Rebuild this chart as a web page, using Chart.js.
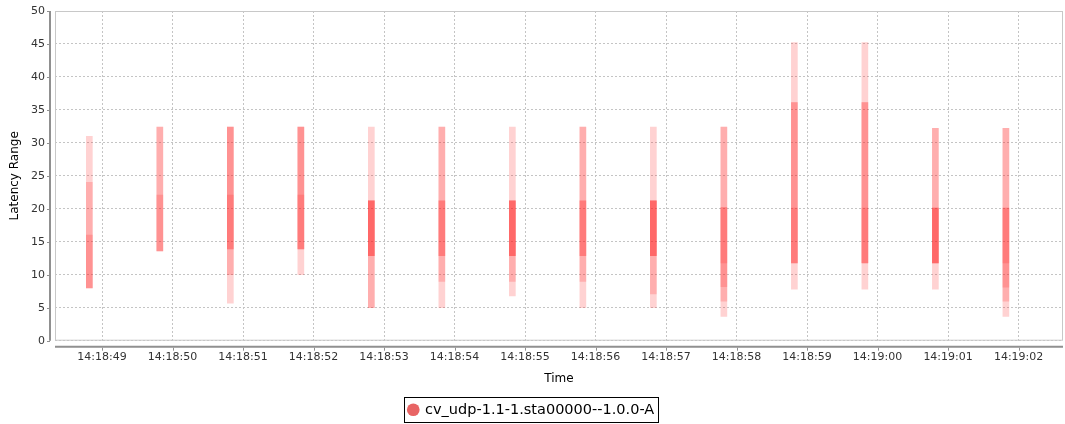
<!DOCTYPE html>
<html>
<head>
<meta charset="utf-8">
<script src="https://cdn.jsdelivr.net/npm/chart.js@4.4.1/dist/chart.umd.min.js"></script>
<style>
  html, body { margin: 0; padding: 0; background: #fff; }
</style>
</head>
<body>
<canvas id="grafico" width="1065" height="424"></canvas>
<script>
// bar positions, in seconds after 14:18:00
const times = [48.82, 49.82, 50.82, 51.82, 52.82, 53.82, 54.82, 55.82, 56.82, 57.82, 58.82, 59.82, 60.82, 61.82];

// overlapping latency ranges [low, high] per time, one array per layer
const layer1 = [[8, 31], [13.6, 32.4], [5.7, 32.4], [10, 32.4], [5, 32.4], [5, 32.4], [6.8, 32.4], [5, 32.4], [5, 32.4], [3.7, 32.4], [7.8, 45.2], [7.8, 45.2], [7.8, 32.2], [3.7, 32.2]];
const layer2 = [[8, 24], [13.6, 32.4], [10, 32.4], [13.9, 32.4], [5, 21.2], [12.9, 32.4], [9, 21.2], [12.9, 32.4], [7.1, 21.2], [6, 32.4], [11.8, 36.1], [11.8, 36.1], [11.8, 32.2], [6, 32.2]];
const layer3 = [[8, 16], [13.6, 22.1], [13.9, 32.4], [13.9, 32.4], [12.9, 21.2], [9, 21.2], [12.9, 21.2], [9, 21.2], [12.9, 21.2], [11.8, 20.2], [11.8, 36.1], [11.8, 36.1], [11.8, 20.1], [11.8, 20.1]];
const layer4 = [null, null, [13.9, 22.1], [13.9, 22.1], [12.9, 21.2], [12.9, 21.2], [12.9, 21.2], [12.9, 21.2], [12.9, 21.2], [8.2, 20.2], [11.8, 20.1], [11.8, 20.1], [11.8, 20.1], [8.1, 20.1]];
const layer5 = [null, null, null, null, [12.9, 21.2], null, [12.9, 21.2], null, [12.9, 21.2], null, null, null, [11.8, 20.1], null];

const tickValues = [49, 50, 51, 52, 53, 54, 55, 56, 57, 58, 59, 60, 61, 62];
const tickLabels = ["14:18:49", "14:18:50", "14:18:51", "14:18:52", "14:18:53", "14:18:54", "14:18:55",
  "14:18:56", "14:18:57", "14:18:58", "14:18:59", "14:19:00", "14:19:01", "14:19:02"];

const seriesName = "cv_udp-1.1-1.sta00000--1.0.0-A";

Chart.defaults.font.family = "'DejaVu Sans', sans-serif";
Chart.defaults.color = "#333";

const layers = [layer1, layer2, layer3, layer4, layer5];
const datasets = layers.map((layer, i) => ({
  label: i === 0 ? seriesName : "",
  data: times.map((t, j) => (layer[j] ? { x: t, y: layer[j] } : null)).filter((p) => p),
  backgroundColor: "rgba(255, 30, 30, 0.2)",
  borderWidth: 0,
  barThickness: 6,
  grouped: false,
}));

// plot frame, offset axis lines and the box round the legend
const moldura = {
  id: "moldura",
  beforeDatasetsDraw(chart) {
    const { ctx, chartArea: a } = chart;
    ctx.save();
    ctx.strokeStyle = "#c8c8c8";
    ctx.lineWidth = 1;
    ctx.strokeRect(a.left + 0.5, a.top + 0.5, a.right - a.left - 1, a.bottom - a.top - 1);
    ctx.restore();
  },
  afterDraw(chart) {
    const { ctx, chartArea: a } = chart;
    ctx.save();
    ctx.strokeStyle = "#909090";
    ctx.lineWidth = 2;
    ctx.beginPath();
    ctx.moveTo(a.left - 5, a.top);
    ctx.lineTo(a.left - 5, a.bottom);
    ctx.moveTo(a.left, a.bottom + 6);
    ctx.lineTo(a.right, a.bottom + 6);
    ctx.stroke();
    ctx.lineWidth = 1;
    ctx.beginPath();
    const y = chart.scales.y;
    y.ticks.forEach((t) => {
      const py = Math.round(y.getPixelForValue(t.value)) + 0.5;
      ctx.moveTo(a.left - 8, py);
      ctx.lineTo(a.left - 5, py);
    });
    const x = chart.scales.x;
    x.ticks.forEach((t) => {
      const px = Math.round(x.getPixelForValue(t.value)) + 0.5;
      ctx.moveTo(px, a.bottom + 7);
      ctx.lineTo(px, a.bottom + 10);
    });
    ctx.stroke();

    const box = chart.legend.legendHitBoxes[0];
    if (box) {
      ctx.strokeStyle = "#000";
      ctx.lineWidth = 1;
      ctx.strokeRect(Math.round(box.left) - 4.5, Math.round(box.top) - 5.5, Math.round(box.width) + 9, Math.round(box.height) + 10);
    }
    ctx.restore();
  },
};

new Chart(document.getElementById("grafico"), {
  type: "bar",
  data: { datasets: datasets },
  plugins: [moldura],
  options: {
    responsive: false,
    animation: false,
    layout: { padding: { top: 11, right: 2, left: 0, bottom: -3 } },
    plugins: {
      tooltip: { enabled: false },
      legend: {
        position: "bottom",
        labels: {
          usePointStyle: true,
          pointStyle: "circle",
          boxWidth: 9,
          boxHeight: 9,
          padding: 7,
          font: { size: 14.5 },
          color: "#000",
          generateLabels: () => [{
            text: seriesName,
            fillStyle: "#e86464",
            strokeStyle: "#e86464",
            lineWidth: 0,
            hidden: false,
            pointStyle: "circle",
            datasetIndex: 0,
          }],
        },
      },
    },
    scales: {
      x: {
        type: "linear",
        min: 48.333,
        max: 62.63,
        offset: false,
        afterBuildTicks: (scale) => {
          scale.ticks = tickValues.map((v) => ({ value: v }));
        },
        ticks: {
          autoSkip: false,
          maxRotation: 0,
          padding: 11,
          font: { size: 11, lineHeight: 1 },
          color: "#333",
          callback: (value, index) => tickLabels[index],
        },
        grid: { color: "#c4c4c4", lineWidth: 1, drawTicks: false, offset: false },
        border: { display: false, dash: [2, 2] },
        title: { display: true, text: "Time", font: { size: 12, lineHeight: 0.9 }, color: "#000", padding: { top: 0, bottom: 11 } },
      },
      y: {
        min: 0,
        max: 50,
        ticks: { stepSize: 5, padding: 0, font: { size: 11 }, color: "#333" },
        grid: { color: "#c4c4c4", lineWidth: 1, drawTicks: true, tickLength: 10, tickColor: "rgba(0,0,0,0)" },
        border: { display: false, dash: [2, 2] },
        afterFit: (scale) => { scale.width = 55; },
        title: { display: true, text: "Latency Range", font: { size: 12 }, color: "#000", padding: { top: 8, bottom: 0 } },
      },
    },
  },
});
</script>
</body>
</html>
